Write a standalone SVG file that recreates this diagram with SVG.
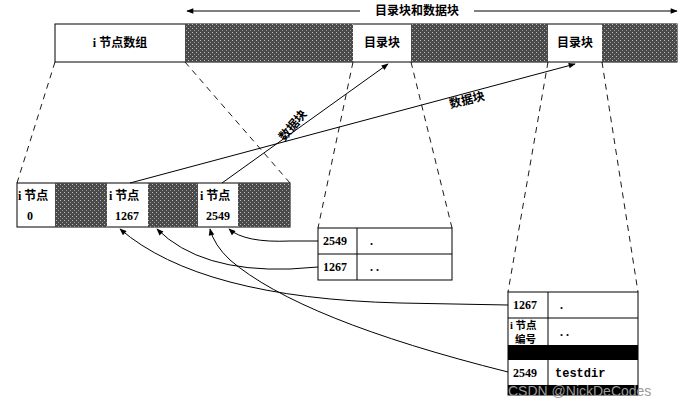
<svg xmlns="http://www.w3.org/2000/svg" width="685" height="406" viewBox="0 0 685 406">
<defs>
<pattern id="g" width="4" height="4" patternUnits="userSpaceOnUse"><rect width="4" height="4" fill="#4a4a4a"/><rect x="0" y="0" width="1" height="1" fill="#bbb"/><rect x="2" y="2" width="1" height="1" fill="#999"/></pattern>
<marker id="a" viewBox="0 0 10 10" refX="9" refY="5" markerWidth="9" markerHeight="7" orient="auto"><path d="M0,1 L10,5 L0,9 z" fill="#000"/></marker>
<marker id="as" viewBox="0 0 10 10" refX="1" refY="5" markerWidth="9" markerHeight="7" orient="auto"><path d="M10,1 L0,5 L10,9 z" fill="#000"/></marker>
</defs>
<style>
text{font-family:"Liberation Serif","Noto Sans CJK SC",serif;font-size:12px;font-weight:bold;fill:#000}
.b{fill:#fff;stroke:#000;stroke-width:1}
.g{fill:url(#g)}
.d{stroke:#000;stroke-dasharray:6,5;fill:none;stroke-width:0.9}
.c{stroke:#000;fill:none;stroke-width:1}
.m{text-anchor:middle}
.mono{font-family:"Liberation Mono",monospace}
.s{font-size:10.5px}
</style>
<rect width="685" height="406" fill="#fff"/>
<g id="topbar">
<rect class="b" x="55" y="24" width="622" height="38"/>
<rect class="g" x="185" y="24" width="168" height="38"/>
<rect class="g" x="411" y="24" width="137" height="38"/>
<rect class="g" x="602" y="24" width="75" height="38"/>
<text class="m" x="120" y="47">i 节点数组</text>
<text class="m" x="382" y="47">目录块</text>
<text class="m" x="575" y="47">目录块</text>
</g>
<g id="span">
<line class="c" x1="187" y1="11" x2="360" y2="11" marker-start="url(#as)"/>
<line class="c" x1="474" y1="11" x2="677" y2="11" marker-end="url(#a)"/>
<text class="m" x="417" y="15">目录块和数据块</text>
</g>
<g id="inodes">
<rect class="b" x="17" y="183" width="273" height="44"/>
<rect class="g" x="55" y="183" width="52" height="44"/>
<rect class="g" x="148" y="183" width="50" height="44"/>
<rect class="g" x="238" y="183" width="52" height="44"/>
<text x="18" y="200">i 节点</text><text class="m" x="30" y="220">0</text>
<text x="109" y="200">i 节点</text><text class="m" x="127" y="220">1267</text>
<text x="200" y="200">i 节点</text><text class="m" x="218" y="220">2549</text>
</g>
<g id="dir1">
<rect class="b" x="318" y="228" width="134" height="52"/>
<line class="c" x1="318" y1="254" x2="452" y2="254"/>
<line class="c" x1="357" y1="228" x2="357" y2="280"/>
<text x="323" y="245">2549</text><text x="370" y="245">.</text>
<text x="323" y="271">1267</text><text x="370" y="271">. .</text>
</g>
<g id="dir2">
<rect class="b" x="508" y="292" width="130" height="103"/>
<line class="c" x1="508" y1="318" x2="638" y2="318"/>
<line class="c" x1="548" y1="292" x2="548" y2="345"/>
<line class="c" x1="548" y1="360" x2="548" y2="385"/>
<rect x="508" y="345" width="130" height="15" fill="#000"/>
<rect x="508" y="385" width="130" height="10" fill="#000"/>
<text x="513" y="309">1267</text><text x="560" y="309">.</text>
<text class="s" x="510" y="329">i 节点</text><text class="s" x="515" y="343">编号</text><text x="560" y="336">. .</text>
<text x="513" y="377">2549</text><text class="mono" x="555" y="377">testdir</text>
</g>
<g id="connectors">
<line class="d" x1="55" y1="62" x2="17" y2="183"/>
<line class="d" x1="185" y1="62" x2="290" y2="183"/>
<line class="d" x1="353" y1="62" x2="318" y2="228"/>
<line class="d" x1="411" y1="62" x2="452" y2="228"/>
<line class="d" x1="548" y1="62" x2="508" y2="292"/>
<line class="d" x1="602" y1="62" x2="638" y2="292"/>
<line class="c" x1="222" y1="183" x2="388" y2="64" marker-end="url(#a)"/>
<line class="c" x1="130" y1="183" x2="575" y2="64" marker-end="url(#a)"/>
<path class="c" d="M318,241 L290,241 Q245,243 229,229" marker-end="url(#a)"/>
<path class="c" d="M318,267 L290,269 Q200,272 157,229" marker-end="url(#a)"/>
<path class="c" d="M508,305 L400,303 Q200,298 120,229" marker-end="url(#a)"/>
<path class="c" d="M508,372 Q300,320 230,260 Q214,245 210,229" marker-end="url(#a)"/>
<text class="m" transform="translate(296,128) rotate(-50)">数据块</text>
<text class="m" transform="translate(468,104) rotate(-14)">数据块</text>
</g>
<text x="508" y="396" style="font-family:'Liberation Sans',sans-serif;font-weight:normal;font-size:14px;fill:#999">CSDN @NickDeCodes</text>
</svg>
